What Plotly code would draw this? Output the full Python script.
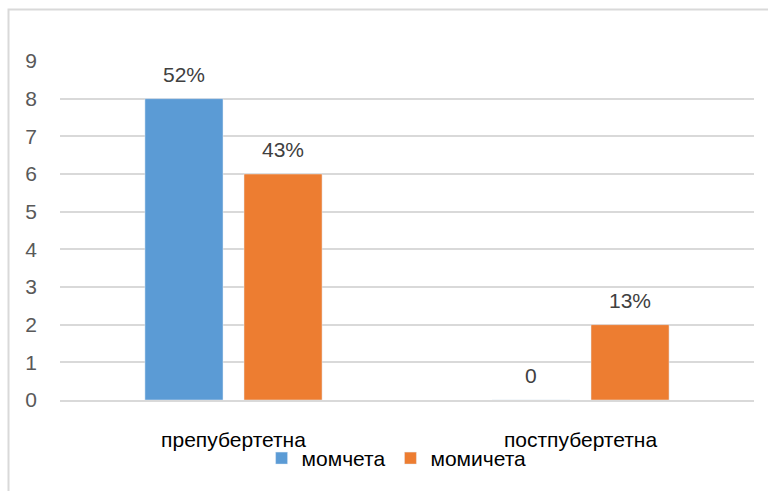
import plotly.graph_objects as go

categories = ["препубертетна", "постпубертетна"]
series_names = ["момчета", "момичета"]
boys = [8, 0]
girls = [6, 2]
boys_labels = ["52%", "0"]
girls_labels = ["43%", "13%"]
y_ticks = list(range(0, 10))

BLUE = "#5B9BD5"
ORANGE = "#ED7D31"
FONT = "Liberation Sans"
FS = 21

fig = go.Figure()
fig.add_trace(go.Bar(name=series_names[0], x=categories, y=boys, marker_color=BLUE))
fig.add_trace(go.Bar(name=series_names[1], x=categories, y=girls, marker_color=ORANGE))

# value labels sit above each bar, shifted to their bar inside the group
for vals, labels, shift in ((boys, boys_labels, -49.5), (girls, girls_labels, 49.5)):
    for cat, v, lab in zip(categories, vals, labels):
        fig.add_annotation(x=cat, y=v, text=lab, showarrow=False, xshift=shift,
                           yanchor="bottom", yshift=11,
                           font=dict(family=FONT, size=FS, color="#404040"))

# outer chart frame
W, H = 768, 491
ml, mr, mt, mb = 60, 14, 61, 91
pw, ph = W - ml - mr, H - mt - mb
fig.add_shape(type="rect", xref="paper", yref="paper",
              x0=(8.5 - ml) / pw, x1=(W + 5 - ml) / pw,
              y0=(H - mb - (H + 5)) / ph, y1=(H - mb - 9.5) / ph,
              line=dict(color="#D9D9D9", width=2), layer="below")

fig.update_layout(
    width=W, height=H,
    margin=dict(l=ml, r=mr, t=mt, b=mb, autoexpand=False),
    paper_bgcolor="white", plot_bgcolor="white",
    barmode="group", bargap=0.429, bargroupgap=0.212,
    font=dict(family=FONT, size=FS, color="#404040"),
    showlegend=True,
    legend=dict(orientation="h", x=0.485, xanchor="center", y=-0.112, yanchor="top",
                bgcolor="rgba(0,0,0,0)",
                font=dict(family=FONT, size=FS, color="#000000"),
                itemwidth=30, tracegroupgap=0),
    xaxis=dict(showgrid=False, showline=True, linecolor="#D9D9D9", linewidth=2,
               ticks="", ticklabelstandoff=20,
               tickfont=dict(family=FONT, size=FS, color="#000000")),
    yaxis=dict(range=[0, 9], tickvals=y_ticks, showgrid=True, gridcolor="#D9D9D9",
               gridwidth=2, zeroline=False, ticks="", ticklabelstandoff=22,
               tickfont=dict(family=FONT, size=FS, color="#595959")),
)

fig.write_html("out.html")
